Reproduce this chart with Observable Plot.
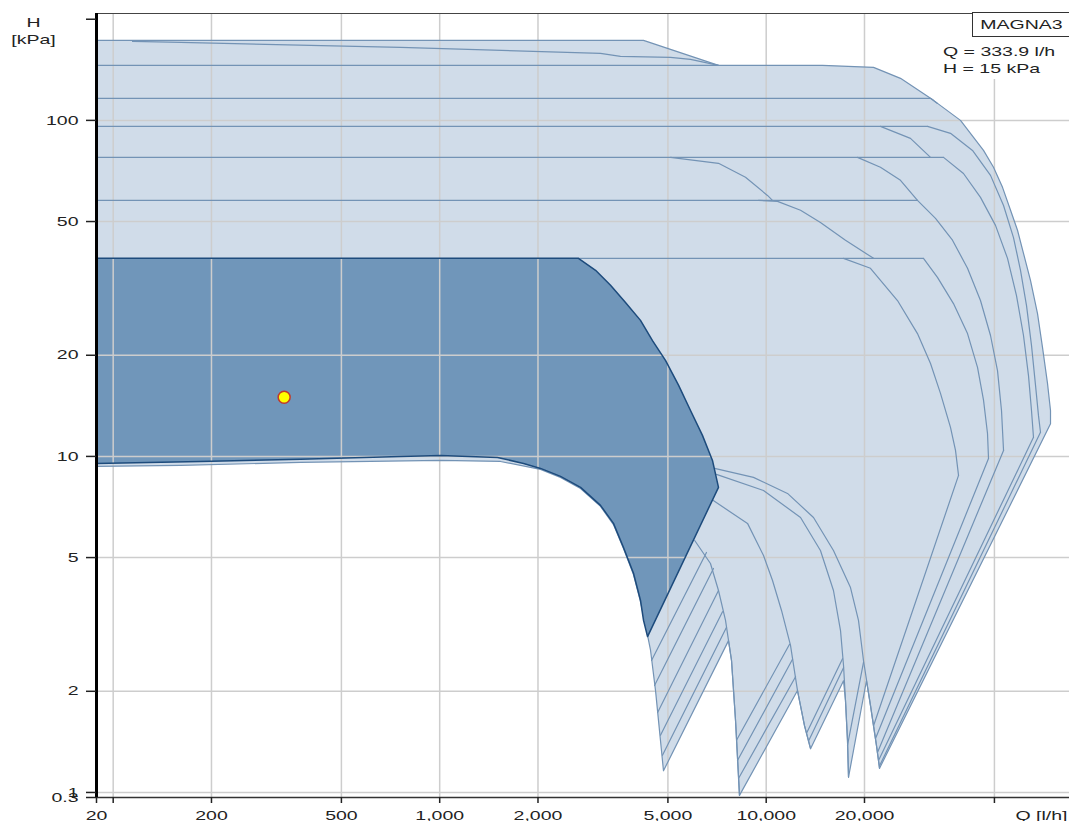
<!DOCTYPE html>
<html>
<head>
<meta charset="utf-8">
<script src="https://cdn.jsdelivr.net/npm/d3@7"></script>
<script src="https://cdn.jsdelivr.net/npm/@observablehq/plot@0.6"></script>
<style>
  html, body { margin: 0; padding: 0; background: #fff; overflow: hidden; }
  #wrap { position: relative; width: 1069px; height: 821px; font-family: "Liberation Sans", Arial, sans-serif; color: #222; }
  #wrap svg { position: absolute; left: 0; top: 0; }
  .box { position: absolute; left: 972px; top: 12px; width: 96px; height: 23px; border: 1px solid #333; border-right: none; background: #fff; text-align: center; font-size: 13px; line-height: 23px; }
  .legend { position: absolute; left: 943px; top: 37px; width: 126px; height: 36px; padding-top: 6px; background: #fff; font-size: 13px; line-height: 17px; }
  .sx { display: inline-block; transform: scaleX(1.5); white-space: nowrap; }
  .box .sx { transform-origin: center center; }
  .legend .sx { transform-origin: left center; }
</style>
</head>
<body>
<div id="wrap"></div>
<script>
// ---------- axes / ticks ----------
const xDomain = [88.9, 84900];           // Q [l/h]
const yDomain = [0.966, 208];            // H [kPa]
const xTicks = [88.9, 100, 200, 500, 1000, 2000, 5000, 10000, 20000, 50000];
const xTickLabels = ["20", "", "200", "500", "1,000", "2,000", "5,000", "10,000", "20,000", ""];
const yTicks = [0.966, 1, 2, 5, 10, 20, 50, 100, 200];
const yTickLabels = ["0.3", "1", "2", "5", "10", "20", "50", "100", ""];
const xGrid = [100, 200, 500, 1000, 2000, 5000, 10000, 20000, 50000];
const yGrid = [1, 2, 5, 10, 20, 50, 100];

// ---------- operating point ----------
const operatingPoint = [[333.9, 15]];

// ---------- union of all MAGNA3 operating ranges (light area) ----------
const envelope = [
  [88.9,173],[4210,173],[5092,162.7],[7143,145.8],[14870,145.8],[21320,143.8],[25780,133.4],
  [32540,114.7],[39360,100],[46300,81.4],[49680,72.5],[52940,63.2],[56020,54.0],[58840,47.1],
  [61380,40.2],[64480,33.4],[67760,26.6],[70180,21.1],[72700,16.5],[74260,13.7],[74260,12.5],
  [22240,1.18],[21760,1.38],[20860,1.815],[20280,2.15],
  [17870,1.11],[17740,1.43],[17490,1.88],[17250,2.15],
  [13670,1.35],[13100,1.58],[12470,2.01],
  [8283,0.98],[8054,1.64],[7830,2.47],[7666,2.83],
  [4846,1.16],[4711,1.53],[4582,2.01],[4423,2.65],[4270,3.14],[4121,3.70],[3922,4.45],
  [3655,5.32],[3406,6.27],[3108,7.10],[2700,8.03],[2344,8.66],[2036,9.15],[1535,9.66],
  [1006,9.73],[375,9.60],[161,9.40],[88.9,9.34]
];

// ---------- selected pump range (dark area) ----------
const selectedRange = [
  [88.9,38.85],[2661,38.85],[3002,35.8],[3336,32.3],[3707,28.7],[4121,25.4],[4485,22.1],
  [4915,19.3],[5388,16.3],[5864,13.7],[6379,11.55],[6846,9.73],[7143,8.09],
  [4331,2.91],[4210,3.25],[4121,3.73],[3922,4.49],[3655,5.36],[3406,6.32],[3108,7.15],
  [2700,8.09],[2344,8.72],[2036,9.21],[1806,9.53],[1503,9.93],[1006,10.07],[759,10.0],
  [375,9.80],[185,9.66],[88.9,9.53]
];

// ---------- max curves of the other pumps ----------
const maxCurves = [
  [[114.6,171.8],[160.7,170.6],[758.6,164.9],[3108,158.2],[3578,155.0],[5092,154.0],[5864,151.9],[7143,145.8]],
  [[88.9,145.8],[7143,145.8]],
  [[88.9,116.3],[31860,116.3],[33460,112.3]],
  [[88.9,96.0],[31200,96.0]],
  [[88.9,77.6],[34920,77.6]],
  [[88.9,57.8],[29060,57.8]],
  [[2661,38.85],[30320,38.85]],
  [[17250,38.85],[20860,36.3],[25240,29.1],[29060,23.2],[31860,18.9],[34180,15.4],[36680,12.2],[38000,10.42],[38820,8.78]],
  [[30320,38.85],[33460,34.1],[37460,28.5],[41360,23.2],[44380,18.4],[46300,14.7],[47620,11.7],[47960,9.86]],
  [[29060,57.8],[33000,51.1],[37200,44.0],[41360,36.3],[45320,29.1],[48640,22.9],[51100,18.0],[52560,13.7],[53320,10.42]],
  [[34920,77.6],[40200,69.5],[45320,59.0],[50380,48.7],[54840,38.85],[58420,30.1],[61380,22.9],[63580,17.4],[64940,13.7],[65860,11.4]],
  [[31200,96.0],[36680,91.5],[42840,81.4],[48640,68.6],[53320,55.8],[57200,44.8],[60100,35.8],[62700,28.1],[64940,21.4],[66800,16.3],[68240,13.2],[69200,11.8]],
  [[22380,96.0],[27660,88.4],[31860,77.6]],
  [[19040,77.6],[22380,72.5],[25780,66.3],[29060,57.8]],
  [[9470,57.8],[10830,57.4],[12740,54.0],[14660,49.7],[17490,44.0],[21320,38.85]],
  [[5092,77.6],[7143,74.5],[8642,67.7],[10090,59.8],[10450,57.8]]
];

// ---------- min curves ----------
const minCurves = [
  [[6950,9.21],[9142,8.66],[11620,7.76],[13960,6.58],[16070,5.25],[18120,4.07],[19170,3.25],[19860,2.47],[20860,1.815],[21760,1.38],[22240,1.18]],
  [[7040,8.84],[9812,7.92],[12740,6.58],[14660,5.25],[16070,3.99],[16890,3.03],[17250,2.39],[17490,1.88],[17740,1.43],[17870,1.11]],
  [[6870,7.40],[8766,6.32],[9812,5.07],[10450,4.28],[11140,3.48],[11870,2.74],[12470,2.01],[13100,1.58],[13670,1.35]],
  [[6040,5.62],[6750,4.80],[7143,3.99],[7506,3.25],[7830,2.47],[8054,1.64],[8283,0.98]]
];

// ---------- max-flow limit lines ----------
const limitLines = [
  [[4454,2.47],[6562,5.18]],
  [[4550,2.08],[6895,4.64]],
  [[4650,1.73],[7143,3.99]],
  [[4745,1.48],[7348,3.45]],
  [[4812,1.29],[7560,3.10]],
  [[8110,1.43],[11790,2.76]],
  [[8166,1.245],[12040,2.49]],
  [[8224,1.10],[12300,2.21]],
  [[13290,1.50],[17130,2.50]],
  [[13470,1.42],[17250,2.35]],
  [[17740,1.38],[19860,2.44]],
  [[21320,1.58],[38820,8.78]],
  [[21620,1.447],[47960,9.86]],
  [[21920,1.315],[53320,10.42]],
  [[22080,1.245],[65860,11.4]],
  [[22240,1.20],[69200,11.8]]
];

// ---------- colours ----------
const LIGHT = "#d0dce9";
const DARK = "#7096ba";
const LINE = "#7393b5";
const NAVY = "#1d4b7c";
const GRID = "#cdcdcd";

const rows = (lines, tag) => lines.flatMap((pts, i) => pts.map(([Q, H]) => ({Q, H, id: tag + i})));
const curveRows = [...rows(maxCurves, "max"), ...rows(minCurves, "min"), ...rows(limitLines, "lim")];
const envRows = envelope.map(([Q, H]) => ({Q, H}));
const selRows = selectedRange.map(([Q, H]) => ({Q, H}));

const chart = Plot.plot({
  width: 1069,
  height: 821,
  marginLeft: 96,
  marginRight: 0,
  marginTop: 13,
  marginBottom: 24,
  style: {fontFamily: "'Liberation Sans', Arial, sans-serif", fontSize: "13px", color: "#222", background: "transparent", overflow: "visible"},
  x: {type: "log", domain: xDomain, label: null},
  y: {type: "log", domain: yDomain, label: null},
  marks: [
    Plot.line(envRows, {x: "Q", y: "H", fill: LIGHT, stroke: "none", curve: "linear"}),
    Plot.line(selRows, {x: "Q", y: "H", fill: DARK, stroke: "none", curve: "linear"}),
    Plot.ruleX(xGrid, {stroke: GRID, strokeWidth: 1.5}),
    Plot.ruleY(yGrid, {stroke: GRID, strokeWidth: 1.5}),
    Plot.line(curveRows, {x: "Q", y: "H", z: "id", stroke: LINE, strokeWidth: 1.2, curve: "linear"}),
    Plot.line(envRows, {x: "Q", y: "H", stroke: LINE, strokeWidth: 1.2, curve: "linear"}),
    Plot.line(selRows, {x: "Q", y: "H", stroke: NAVY, strokeWidth: 1.5, curve: "linear"}),
    Plot.dot(operatingPoint, {x: d => d[0], y: d => d[1], r: 6, fill: "#ffff00", stroke: "#c0392b", strokeWidth: 1.5}),
    Plot.ruleY([yDomain[1]], {stroke: "#444", strokeWidth: 1}),
    Plot.ruleY([yDomain[0]], {stroke: "#333", strokeWidth: 1.5}),
    Plot.ruleX([xDomain[0]], {stroke: "#000", strokeWidth: 3}),
    Plot.axisY({ticks: yTicks, tickFormat: d => yTickLabels[yTicks.indexOf(d)], tickSize: 10, tickPadding: 8, strokeWidth: 1.5, color: "#222", label: null}),
    Plot.axisX({ticks: xTicks, tickFormat: () => "", tickSize: 6, strokeWidth: 1.5, color: "#222", label: null}),
    Plot.text(xTicks, {x: d => d, text: (d, i) => xTickLabels[i], frameAnchor: "bottom", dy: 22, textAnchor: "middle", lineAnchor: "bottom", fill: "#222"}),
    Plot.text(["H"], {text: d => d, frameAnchor: "top-left", dx: -63, dy: 13, textAnchor: "middle", lineAnchor: "bottom", fill: "#222"}),
    Plot.text(["[kPa]"], {text: d => d, frameAnchor: "top-left", dx: -63, dy: 30, textAnchor: "middle", lineAnchor: "bottom", fill: "#222"}),
    Plot.text(["Q [l/h]"], {text: d => d, frameAnchor: "bottom-right", dx: -2, dy: 22, textAnchor: "end", lineAnchor: "bottom", fill: "#222"})
  ]
});

const wrap = document.getElementById("wrap");
wrap.append(chart);

// horizontally widened lettering, as in the reference
chart.querySelectorAll("text").forEach(t => {
  const w = t.getComputedTextLength();
  if (w > 0) {
    t.setAttribute("textLength", (w * 1.5).toFixed(2));
    t.setAttribute("lengthAdjust", "spacingAndGlyphs");
  }
});

const box = document.createElement("div");
box.className = "box";
box.innerHTML = '<span class="sx">MAGNA3</span>';
wrap.append(box);

const legend = document.createElement("div");
legend.className = "legend";
legend.innerHTML = '<div><span class="sx">Q = ' + operatingPoint[0][0] + ' l/h</span></div><div><span class="sx">H = ' + operatingPoint[0][1] + ' kPa</span></div>';
wrap.append(legend);
</script>
</body>
</html>
